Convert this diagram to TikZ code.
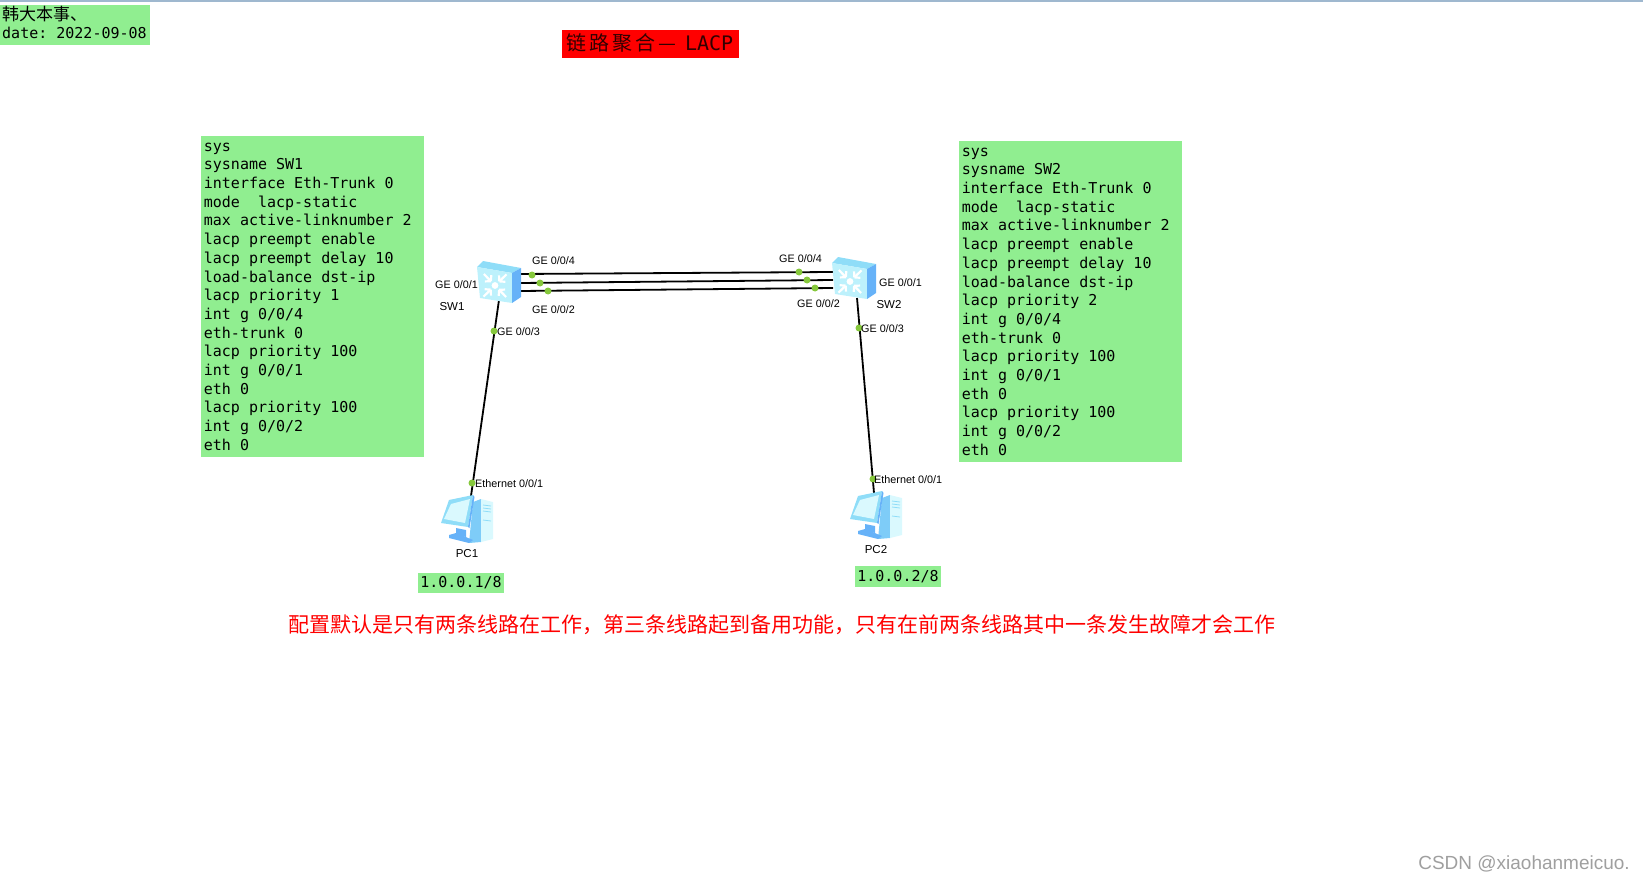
\documentclass[tikz,border=0pt]{standalone}
\usepackage{fontspec}
\setmainfont{Liberation Sans}
\newfontfamily\cjkfont{Noto Sans CJK SC}
\newfontfamily\monofont{DejaVu Sans Mono}
\definecolor{notegreen}{HTML}{90EE90}
\definecolor{portgreen}{HTML}{86C83C}
\definecolor{iconfront}{HTML}{BDF1FC}
\definecolor{icontop}{HTML}{8FDDF8}
\definecolor{iconside}{HTML}{66B2F8}
\definecolor{iconpale}{HTML}{DAF9FE}
\definecolor{barblue}{HTML}{9FB8CF}
\tikzset{
  portlabel/.style={inner sep=0pt,anchor=west,font=\fontsize{10.8}{12}\selectfont},
  devlabel/.style={inner sep=0pt,font=\fontsize{11.5}{13}\selectfont},
  monotext/.style={inner sep=0pt,font=\fontsize{15}{18}\monofont\frenchspacing},
  confignote/.style={fill=notegreen,anchor=north west,inner xsep=2.7pt,inner ysep=0pt,text width=217.6pt,align=left,minimum height=321pt,
    font=\fontsize{15}{18.7}\monofont\frenchspacing},
  link/.style={line width=1.8pt,black},
  portdot/.style={fill=portgreen},
  switchicon/.pic={
    \fill[icontop] (-21,-15)--(-15,-21)--(23,-14)--(14,-9)--cycle;
    \fill[iconfront] (-21,-15)--(14,-9)--(14,21)--(-18,16)--cycle;
    \fill[iconside] (14,-9)--(23,-14)--(23,15)--(14,21)--cycle;
    \foreach \a in {40,130,220,310}{
      \begin{scope}[shift={(-3,3.5)},rotate=\a+4]
        \draw[white,line width=2.2pt] (7,0)--(16,0);
        \draw[white,line width=2.2pt] (6,0)--(10,4.5);
        \draw[white,line width=2.2pt] (6,0)--(10,-4.5);
      \end{scope}
    }
    \fill[white] (-3,3.5) circle (3.4);
  },
  pcicon/.pic={
    \fill[icontop!60!iconside] (7,-17)--(15,-20)--(15,23)--(3,24)--cycle;
    \fill[iconpale] (15,-20)--(27,-17)--(27,20)--(15,23)--cycle;
    \foreach \y in {-14,-11,-8,1}
      \draw[icontop,line width=.8pt] (17,\y)--(25,\y+1);
    \fill[iconside] (-17,16)--(-10,14)--(7,21)--(3,24)--(-17,19)--cycle;
    \fill[iconside] (-10,9)--(0,11)--(0,18)--(-10,16)--cycle;
    \fill[icontop] (-17,-19)--(7,-24)--(2,8)--(-25,4)--cycle;
    \fill[iconpale] (-15,-15)--(4,-20)--(-1,4)--(-22,0)--cycle;
    \fill[iconside] (7,-24)--(8.5,-22)--(3.5,9)--(2,8)--cycle;
  },
}
\begin{document}
\begin{tikzpicture}[x=1pt,y=-1pt]
  \useasboundingbox (0,0) rectangle (1643,880);
  \fill[barblue] (0,0) rectangle (1643,2.5);

  \fill[notegreen] (0,5) rectangle (150,45);
  \node (author) at (2,14) [anchor=west,inner sep=0pt,font=\fontsize{17}{19}\cjkfont] {韩大本事、};
  \node (date) at (2,33) [anchor=west,monotext] {date: 2022-09-08};

  \fill[red] (562,30) rectangle (739,58);
  \node (title) at (566,43) [anchor=west,inner sep=0pt,font=\fontsize{20}{22}\cjkfont,text=black!80!red] {\addfontfeatures{LetterSpace=15}链路聚合—\hspace{9pt}\monofont\addfontfeatures{LetterSpace=0}LACP};

  \node (configA) at (201,136) [confignote] {\spaceskip=0pt\xspaceskip=0pt sys\\sysname SW1\\interface Eth-Trunk 0\\mode\ \ lacp-static\\max active-linknumber 2\\lacp preempt enable\\lacp preempt delay 10\\load-balance dst-ip\\lacp priority 1\\int g 0/0/4\\eth-trunk 0\\lacp priority 100\\int g 0/0/1\\eth 0\\lacp priority 100\\int g 0/0/2\\eth 0};
  \node (configB) at (959,141) [confignote] {\spaceskip=0pt\xspaceskip=0pt sys\\sysname SW2\\interface Eth-Trunk 0\\mode\ \ lacp-static\\max active-linknumber 2\\lacp preempt enable\\lacp preempt delay 10\\load-balance dst-ip\\lacp priority 2\\int g 0/0/4\\eth-trunk 0\\lacp priority 100\\int g 0/0/1\\eth 0\\lacp priority 100\\int g 0/0/2\\eth 0};

  \coordinate (SW1) at (498,282);
  \coordinate (SW2) at (853,278);
  \coordinate (PC1) at (466,519);
  \coordinate (PC2) at (875,515);

  \coordinate (A4) at (520,274);
  \coordinate (A1) at (520,283);
  \coordinate (A2) at (520,291);
  \coordinate (B4) at (833,272);
  \coordinate (B1) at (833,280);
  \coordinate (B2) at (833,288);
  \coordinate (A3) at (499,300);
  \coordinate (B3) at (857,298);
  \coordinate (Ea) at (471,496);
  \coordinate (Eb) at (874,493);

  \draw[link] (A4)--(B4);
  \draw[link] (A1)--(B1);
  \draw[link] (A2)--(B2);
  \draw[link] (A3)--(Ea);
  \draw[link] (B3)--(Eb);

  \pic at (SW1) {switchicon};
  \pic at (SW2) {switchicon};
  \pic at (PC1) {pcicon};
  \pic at (PC2) {pcicon};

  \foreach \p in {(532,275),(540,283),(548,291),(799,272),(807,280),(815,288),(494,331),(859,328),(472,483),(873,479)}
    \fill[portdot] \p circle (3.5);

  \node (lblA4) at (532,261) [portlabel] {GE 0/0/4};
  \node (lblA1) at (435,285) [portlabel] {GE 0/0/1};
  \node (lblA2) at (532,310) [portlabel] {GE 0/0/2};
  \node (lblA3) at (497,332) [portlabel] {GE 0/0/3};
  \node (lblB4) at (779,259) [portlabel] {GE 0/0/4};
  \node (lblB1) at (879,283) [portlabel] {GE 0/0/1};
  \node (lblB2) at (797,304) [portlabel] {GE 0/0/2};
  \node (lblB3) at (861,328.5) [portlabel] {GE 0/0/3};
  \node (lblEa) at (475,484) [portlabel] {Ethernet 0/0/1};
  \node (lblEb) at (874,480) [portlabel] {Ethernet 0/0/1};

  \node (nameA) at (452,307) [devlabel] {SW1};
  \node (nameB) at (889,305) [devlabel] {SW2};
  \node (namePa) at (467,554) [devlabel] {PC1};
  \node (namePb) at (876,550) [devlabel] {PC2};

  \fill[notegreen] (418,573) rectangle (504,593);
  \node (ipA) at (461,583) [monotext] {1.0.0.1/8};
  \fill[notegreen] (855,566) rectangle (941,587);
  \node (ipB) at (898,577) [monotext] {1.0.0.2/8};

  \node (remark) at (288,625) [anchor=west,inner sep=0pt,text=red,font=\fontsize{21}{24}\cjkfont] {配置默认是只有两条线路在工作，第三条线路起到备用功能，只有在前两条线路其中一条发生故障才会工作};

  \node (mark) at (1630,864) [anchor=east,inner sep=0pt,text=gray!75,font=\fontsize{19}{21}\selectfont] {CSDN @xiaohanmeicuo.};
\end{tikzpicture}
\end{document}
